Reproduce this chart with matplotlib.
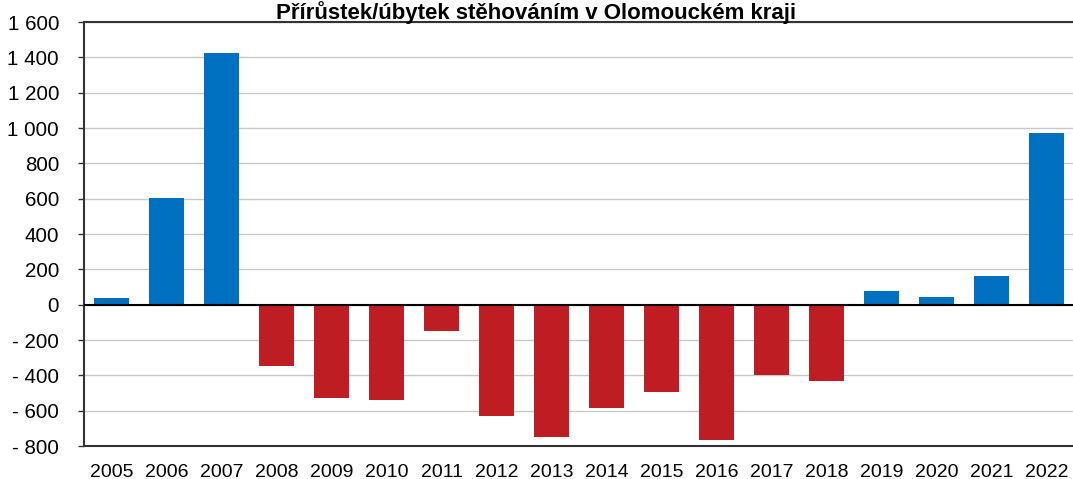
import numpy as np
import matplotlib
matplotlib.use("Agg")
import matplotlib.pyplot as plt
from matplotlib.ticker import FuncFormatter

plt.rcParams['font.family'] = ['Liberation Sans', 'DejaVu Sans']

years = [str(y) for y in range(2005, 2023)]
values = [35, 605, 1425, -345, -526, -538, -147, -628, -747, -583, -492, -764,
          -396, -430, 79, 45, 164, 973]
title = "Přírůstek/úbytek stěhováním v Olomouckém kraji"

blue = "#0070c0"
red = "#be1e23"
colors = [blue if v >= 0 else red for v in values]

fig = plt.figure(figsize=(10.73, 4.79), dpi=100, facecolor="w")
ax = fig.add_axes([84 / 1073, 1 - 446 / 479, 990 / 1073, 424 / 479])

x = np.arange(len(years))
ax.bar(x, values, width=0.64, color=colors, zorder=3)
ax.set_xlim(-0.5, len(years) - 0.5)
ax.set_ylim(-800, 1600)
ax.set_yticks(np.arange(-800, 1601, 200))


def fmt(v, pos):
    v = int(round(v))
    s = "{:,}".format(abs(v)).replace(",", " ")
    return "- " + s if v < 0 else s


ax.yaxis.set_major_formatter(FuncFormatter(fmt))
ax.set_xticks(x)
ax.set_xticklabels(years)
ax.tick_params(axis="x", length=0, pad=13, labelsize=14)
ax.tick_params(axis="y", length=4, width=1, direction="out", pad=14, labelsize=14.8,
               color="#333333")
ax.grid(axis="y", color="#c8c8c8", linewidth=1, zorder=0)
ax.axhline(0, color="black", linewidth=1.5, zorder=4)
for s in ["left", "top", "bottom"]:
    ax.spines[s].set_color("#333333")
    ax.spines[s].set_linewidth(1.5)
ax.spines["right"].set_visible(False)

fig.text(0.5, 1 - 19 / 479, title, ha="center", va="baseline", fontsize=16,
         fontweight="bold", zorder=5)

fig.savefig("out.png", dpi=100)
